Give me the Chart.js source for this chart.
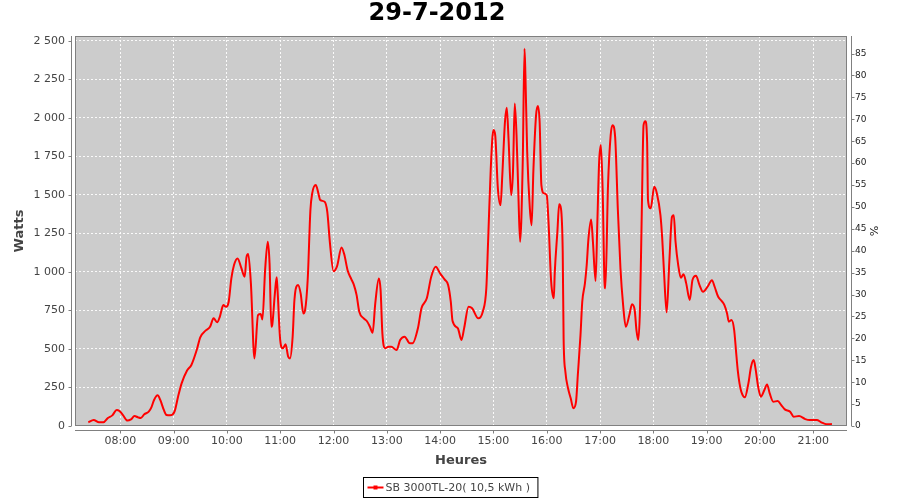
<!DOCTYPE html>
<html lang="fr">
<head>
<meta charset="UTF-8">
<title>29-7-2012</title>
<script src="https://cdn.jsdelivr.net/npm/chart.js"></script>
<style>
  html, body { margin: 0; padding: 0; background: #fff; }
  #wrap { width: 900px; height: 500px; }
</style>
</head>
<body>
<div id="wrap"><canvas id="chart"></canvas></div>
<script>
// relevés de l'onduleur (heure, puissance en W)
const times = [
  '07:24','07:30','07:36','07:41','07:46','07:51','07:56','07:59','08:03','08:08',
  '08:12','08:16','08:20','08:23','08:27','08:32','08:35','08:38','08:42','08:45',
  '08:49','08:52','08:56','09:01','09:05','09:09','09:15','09:20','09:26','09:30',
  '09:36','09:41','09:45','09:49','09:52','09:56','09:59','10:02','10:05','10:08',
  '10:12','10:16','10:20','10:22','10:24','10:27','10:31','10:35','10:38','10:40',
  '10:43','10:46','10:48','10:50','10:51','10:54','10:56','10:57','11:00','11:03',
  '11:06','11:09','11:11','11:14','11:16','11:20','11:23','11:26','11:28','11:31',
  '11:34','11:36','11:40','11:43','11:45','11:50','11:53','11:56','12:00','12:04',
  '12:09','12:12','12:16','12:20','12:23','12:26','12:29','12:34','12:38','12:41',
  '12:44','12:47','12:51','12:53','12:55','12:58','13:02','13:05','13:11','13:15',
  '13:20','13:26','13:29','13:35','13:39','13:45','13:50','13:55','14:00','14:05',
  '14:09','14:12','14:14','14:20','14:24','14:27','14:32','14:36','14:43','14:48',
  '14:52','14:54','14:57','15:00','15:02','15:05','15:08','15:10','15:13','15:15',
  '15:17','15:20','15:22','15:24','15:26','15:28','15:30','15:33','15:35','15:36',
  '15:38','15:41','15:43','15:45','15:48','15:50','15:52','15:54','15:57','16:00',
  '16:02','16:05','16:08','16:09','16:12','16:14','16:16','16:18','16:19','16:21',
  '16:24','16:27','16:30','16:33','16:35','16:38','16:40','16:43','16:45','16:47',
  '16:50','16:52','16:55','16:57','16:59','17:01','17:03','17:05','17:06','17:09',
  '17:12','17:14','17:17','17:20','17:23','17:26','17:29','17:33','17:36','17:39',
  '17:41','17:43','17:45','17:47','17:49','17:51','17:53','17:54','17:57','18:01',
  '18:04','18:08','18:10','18:12','18:15','18:18','18:21','18:23','18:25','18:28',
  '18:31','18:34','18:37','18:41','18:44','18:48','18:52','18:56','19:01','19:06',
  '19:09','19:13','19:17','19:20','19:23','19:25','19:28','19:31','19:33','19:35',
  '19:37','19:39','19:43','19:47','19:50','19:53','19:55','19:58','20:01','20:05',
  '20:08','20:11','20:15','20:20','20:24','20:28','20:34','20:38','20:44','20:51',
  '20:56','21:04','21:09','21:15','21:21'
];
const watts = [
  24, 39, 24, 24, 52, 69, 104, 97, 71, 35,
  43, 65, 56, 52, 76, 93, 121, 169, 199, 169,
  104, 71, 69, 93, 190, 277, 359, 396, 493, 576,
  619, 644, 699, 673, 709, 785, 774, 807, 958, 1045,
  1088, 1030, 969, 1095, 1116, 926, 439, 720, 727, 692,
  1012, 1196, 1056, 644, 655, 861, 965, 882, 558, 504,
  530, 450, 439, 580, 818, 915, 861, 731, 753, 958,
  1402, 1510, 1564, 1510, 1467, 1456, 1390, 1186, 1005, 1038,
  1159, 1116, 1008, 954, 915, 850, 742, 699, 677, 644,
  605, 796, 958, 882, 601, 504, 515, 515, 493, 558,
  580, 537, 537, 634, 764, 829, 969, 1034, 991, 952,
  915, 807, 681, 634, 558, 634, 774, 764, 699, 742,
  894, 1196, 1672, 1921, 1889, 1543, 1434, 1629, 1975, 2066,
  1867, 1499, 1650, 2094, 1889, 1521, 1196, 1715, 2450, 2278,
  1780, 1413, 1304, 1661, 2018, 2078, 1975, 1564, 1510, 1499,
  1326, 937, 829, 991, 1261, 1439, 1413, 1131, 569, 352,
  245, 180, 115, 158, 331, 590, 807, 926, 1045, 1218,
  1341, 1196, 941, 1326, 1715, 1824, 1521, 937, 894, 1564,
  1889, 1953, 1877, 1413, 1023, 785, 644, 720, 790, 753,
  623, 558, 764, 1390, 1953, 1979, 1845, 1467, 1413, 1553,
  1510, 1369, 1218, 1001, 738, 1066, 1358, 1369, 1196, 1045,
  962, 986, 926, 818, 947, 976, 915, 871, 904, 947,
  904, 839, 811, 785, 731, 677, 688, 623, 493, 363,
  277, 223, 186, 277, 385, 428, 374, 255, 190, 234,
  270, 212, 158, 162, 136, 108, 93, 60, 65, 45,
  39, 39, 24, 11, 13
];
const hourLabels = ['08:00','09:00','10:00','11:00','12:00','13:00','14:00',
                    '15:00','16:00','17:00','18:00','19:00','20:00','21:00'];
const wattTicks = [0, 250, 500, 750, 1000, 1250, 1500, 1750, 2000, 2250, 2500];
const percentTicks = [0, 5, 10, 15, 20, 25, 30, 35, 40, 45, 50, 55, 60, 65, 70, 75, 80, 85];
const chartTitle = '29-7-2012';
const seriesLabel = 'SB 3000TL-20( 10,5 kWh )';

function toMin(s) {
  const [h, m] = s.split(':').map(Number);
  return h * 60 + m;
}

function fmtWatts(v) {
  if (v < 1000) return String(v);
  return Math.floor(v / 1000) + ' ' + String(v % 1000).padStart(3, '0');
}

Chart.defaults.font.family = '"DejaVu Sans", sans-serif';
Chart.defaults.color = '#444';

const AXIS_GAP = 4;

// fond gris, cadre, axes décalés, titre et légende encadrée
const plotDecor = {
  id: 'plotDecor',
  beforeDraw(chart) {
    const a = chart.chartArea, ctx = chart.ctx;
    ctx.save();
    ctx.fillStyle = '#cccccc';
    ctx.fillRect(a.left, a.top, a.right - a.left, a.bottom - a.top);
    ctx.restore();
  },
  afterDraw(chart) {
    const a = chart.chartArea, ctx = chart.ctx;
    ctx.save();
    ctx.strokeStyle = '#808080';
    ctx.lineWidth = 1;
    ctx.strokeRect(a.left + 0.5, a.top + 0.5, a.right - a.left - 1, a.bottom - a.top - 1);

    const lx = Math.round(a.left - AXIS_GAP) + 0.5;
    const rx = Math.round(a.right + AXIS_GAP) + 0.5;
    const by = Math.round(a.bottom + AXIS_GAP) + 0.5;
    ctx.beginPath();
    ctx.moveTo(lx, a.top); ctx.lineTo(lx, a.bottom);
    ctx.moveTo(rx, a.top); ctx.lineTo(rx, a.bottom);
    ctx.moveTo(a.left, by); ctx.lineTo(a.right, by);
    const ys = chart.scales.y, y1 = chart.scales.y1, xs = chart.scales.x;
    ys.ticks.forEach(t => {
      const p = Math.round(ys.getPixelForValue(t.value)) + 0.5;
      ctx.moveTo(lx - 3, p); ctx.lineTo(lx, p);
    });
    y1.ticks.forEach(t => {
      const p = Math.round(y1.getPixelForValue(t.value)) + 0.5;
      ctx.moveTo(rx, p); ctx.lineTo(rx + 3, p);
    });
    xs.ticks.forEach(t => {
      const p = Math.round(xs.getPixelForValue(t.value)) + 0.5;
      ctx.moveTo(p, by); ctx.lineTo(p, by + 3);
    });
    ctx.stroke();

    // titre
    ctx.fillStyle = '#000';
    ctx.font = 'bold 24px "DejaVu Sans", sans-serif';
    ctx.textAlign = 'center';
    ctx.textBaseline = 'middle';
    ctx.fillText(chartTitle, 437, 14);

    // légende
    ctx.font = '11px "DejaVu Sans", sans-serif';
    const tw = ctx.measureText(seriesLabel).width;
    const boxW = tw + 30;
    const bx = Math.round(450 - boxW / 2) + 0.5;
    const byL = 477.5, bh = 20;
    ctx.strokeStyle = '#000';
    ctx.strokeRect(bx, byL, boxW, bh);
    const cy = byL + bh / 2;
    ctx.strokeStyle = '#ff0000';
    ctx.lineWidth = 2;
    ctx.beginPath();
    ctx.moveTo(bx + 4, cy); ctx.lineTo(bx + 20, cy);
    ctx.stroke();
    ctx.fillStyle = '#ff0000';
    ctx.fillRect(bx + 10, cy - 2, 4, 4);
    ctx.fillStyle = '#444';
    ctx.textAlign = 'left';
    ctx.fillText(seriesLabel, bx + 22, cy + 0.5);
    ctx.restore();
  }
};

const gridStyle = {
  color: 'rgba(255,255,255,0.9)',
  lineWidth: 1,
  drawTicks: false
};
const dashedBorder = { display: false, dash: [2, 2] };

new Chart(document.getElementById('chart'), {
  type: 'line',
  data: {
    datasets: [{
      label: seriesLabel,
      data: times.map((t, i) => ({ x: toMin(t), y: watts[i] })),
      borderColor: '#ff0000',
      borderWidth: 2,
      pointRadius: 0,
      cubicInterpolationMode: 'monotone',
      fill: false,
      yAxisID: 'y'
    }]
  },
  options: {
    responsive: true,
    maintainAspectRatio: false,
    animation: false,
    devicePixelRatio: 1,
    layout: { padding: { top: 36, bottom: 28, left: 0, right: 0 } },
    plugins: {
      legend: { display: false },
      tooltip: { enabled: false },
      title: { display: false }
    },
    scales: {
      x: {
        type: 'linear',
        min: 429,
        max: 1298,
        afterBuildTicks: s => { s.ticks = hourLabels.map(h => ({ value: toMin(h) })); },
        afterFit: s => { s.height = 46; },
        ticks: {
          padding: 9,
          font: { size: 11 },
          color: '#444',
          maxRotation: 0,
          autoSkip: false,
          callback: (v, i) => hourLabels[i]
        },
        grid: gridStyle,
        border: dashedBorder,
        title: {
          display: true,
          text: 'Heures',
          color: '#444',
          font: { size: 13, weight: 'bold' },
          padding: { top: 0, bottom: 4 }
        }
      },
      y: {
        position: 'left',
        min: 0,
        max: 2532,
        afterBuildTicks: s => { s.ticks = wattTicks.map(v => ({ value: v })); },
        afterFit: s => { s.width = 75; },
        ticks: {
          padding: 10,
          font: { size: 11 },
          color: '#444',
          autoSkip: false,
          callback: v => fmtWatts(v)
        },
        grid: gridStyle,
        border: dashedBorder,
        title: {
          display: true,
          text: 'Watts',
          color: '#444',
          font: { size: 13, weight: 'bold' },
          padding: { top: 12, bottom: 0 }
        }
      },
      y1: {
        position: 'right',
        min: 0,
        max: 89,
        afterBuildTicks: s => { s.ticks = percentTicks.map(v => ({ value: v })); },
        afterFit: s => { s.width = 53; },
        ticks: {
          padding: 8,
          font: { size: 9 },
          color: '#222',
          autoSkip: false
        },
        grid: { display: false, drawTicks: false },
        border: { display: false },
        title: {
          display: true,
          text: '%',
          color: '#222',
          font: { size: 11 },
          padding: { top: 21, bottom: 0 }
        }
      }
    }
  },
  plugins: [plotDecor]
});
</script>
</body>
</html>
